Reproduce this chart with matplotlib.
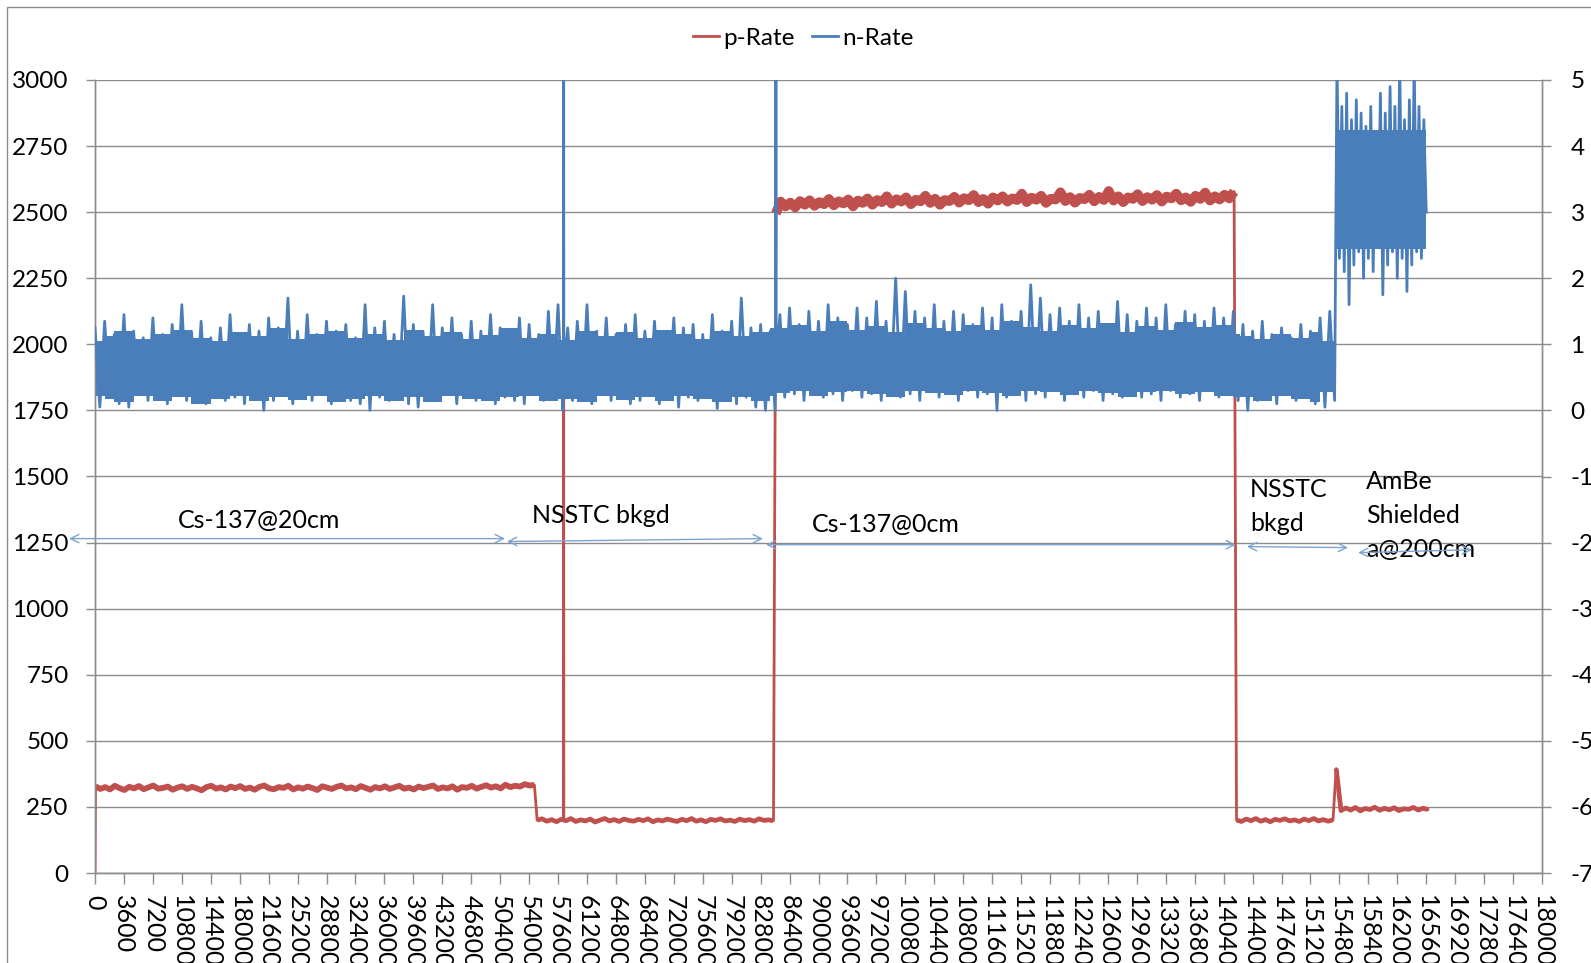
import numpy as np
import matplotlib
matplotlib.use("Agg")
import matplotlib.pyplot as plt
from matplotlib.patches import Rectangle

plt.rcParams['font.family'] = ['Lato', 'DejaVu Sans']
plt.rcParams['axes.unicode_minus'] = False

# ---------------- data ----------------
x_ticks = list(range(0, 180001, 3600))
left_ticks = list(range(0, 3001, 250))
right_ticks = list(range(-7, 6))

# p-Rate (left axis), each run sampled every 600 s from its start time
P_STEP = 600
p_cs20_start = 60
p_cs20 = [328, 318, 325, 316, 330, 321, 314, 326, 320, 329,
          317, 324, 331, 319, 322, 327, 315, 323, 328, 318,
          326, 320, 313, 325, 330, 319, 324, 316, 327, 321,
          329, 318, 323, 315, 326, 331, 320, 317, 325, 322,
          330, 316, 324, 319, 327, 321, 314, 328, 323, 318,
          326, 331, 320, 324, 317, 329, 322, 315, 325, 320,
          328, 318, 324, 330, 319, 323, 316, 327, 321, 326,
          331, 318, 324, 320, 328, 315, 325, 322, 330, 319,
          326, 332, 323, 328, 320, 334, 325, 330, 327, 336,
          331, 333]
p_bkgd1_start = 55000
p_bkgd1 = [200, 205, 196, 202, 194, 203, 198, 206, 195, 201,
           197, 204, 193, 200, 206, 197, 202, 195, 204, 199,
           196, 203, 198, 205, 194, 201, 197, 204, 199, 195,
           203, 198, 206, 196, 201, 194, 203, 199, 205, 197,
           200, 195, 204, 198, 202, 196, 205, 199, 201, 198]
p_cs0_start = 84700
p_cs0 = [2495, 2540, 2522, 2536, 2518, 2542, 2528, 2545, 2524, 2538,
         2530, 2550, 2526, 2541, 2533, 2548, 2522, 2544, 2535, 2552,
         2528, 2546, 2538, 2560, 2532, 2549, 2540, 2556, 2530, 2547,
         2541, 2562, 2535, 2551, 2528, 2546, 2542, 2558, 2536, 2553,
         2545, 2565, 2538, 2550, 2532, 2556, 2544, 2560, 2540, 2552,
         2546, 2570, 2538, 2555, 2547, 2562, 2535, 2551, 2548, 2575,
         2542, 2557, 2536, 2554, 2549, 2566, 2541, 2558, 2546, 2580,
         2544, 2560, 2538, 2556, 2550, 2568, 2542, 2557, 2547, 2565,
         2540, 2559, 2552, 2570, 2545, 2556, 2539, 2562, 2550, 2574,
         2544, 2560, 2548, 2566, 2552, 2578]
p_bkgd2_start = 142000
p_bkgd2 = [200, 195, 204, 198, 206, 196, 202, 194, 203, 199,
           205, 197, 201, 195, 204, 198, 206, 197, 202, 196, 201]
p_ambe_start = 154400
p_ambe = [395, 236, 246, 238, 248, 235, 244, 240, 249, 237,
          245, 239, 247, 236, 243, 241, 248, 238, 245, 240]
# isolated samples: start of recording and the glitch during the background run
p_spike_t = [0, 58280, 58300, 58320]
p_spike_v = [0, 200, 2000, 200]

# n-Rate (right axis): peaks at k*1200 s, troughs at k*1200 + 600 s
N_STEP = 1200
n_peaks = [1.25, 1.35, 1.15, 1.45, 1.2, 1.1, 1.4, 1.15, 1.3, 1.6,
           1.2, 1.35, 1.1, 1.25, 1.45, 1.15, 1.3, 1.2, 1.4, 1.25,
           1.7, 1.2, 1.45, 1.15, 1.35, 1.2, 1.3, 1.1, 1.6, 1.25,
           1.35, 1.15, 1.73, 1.3, 1.2, 1.6, 1.25, 1.4, 1.15, 1.35,
           1.2, 1.45, 1.25, 1.1, 1.4, 1.3, 1.15, 1.5, 1.6, 1.25,
           1.35, 1.6, 1.2, 1.4, 1.15, 1.3, 1.45, 1.2, 1.35, 1.1,
           1.4, 1.25, 1.3, 1.15, 1.45, 1.2, 1.35, 1.7, 1.25, 1.3,
           1.2, 1.45, 1.55, 1.3, 1.5, 1.35, 1.6, 1.4, 1.3, 1.55,
           1.4, 1.65, 1.35, 2.0, 1.8, 1.5, 1.4, 1.6, 1.35, 1.5,
           1.45, 1.3, 1.55, 1.4, 1.6, 1.35, 1.5, 1.9, 1.7, 1.45,
           1.55, 1.35, 1.6, 1.4, 1.5, 1.3, 1.65, 1.45, 1.35, 1.55,
           1.4, 1.6, 1.3, 1.5, 1.45, 1.35, 1.55, 1.4, 1.5, 1.3,
           1.2, 1.35, 1.15, 1.25, 1.1, 1.3, 1.2, 1.4, 1.5]
n_troughs = [0.05, 0.2, 0.1, 0.05, 0.25, 0.15, 0.2, 0.1, 0.25, 0.15,
             0.2, 0.1, 0.25, 0.15, 0.2, 0.1, 0.2, 0.0, 0.15, 0.25,
             0.1, 0.2, 0.15, 0.25, 0.1, 0.2, 0.15, 0.1, 0.0, 0.2,
             0.15, 0.25, 0.1, 0.05, 0.2, 0.15, 0.25, 0.1, 0.2, 0.15,
             0.25, 0.1, 0.2, 0.15, 0.1, 0.25, 0.15, 0.2, 0.0, 0.15,
             0.2, 0.1, 0.25, 0.15, 0.2, 0.1, 0.15, 0.25, 0.1, 0.2,
             0.05, 0.2, 0.15, 0.25, 0.03, 0.15, 0.1, 0.2, 0.05, 0.0,
             0.0, 0.2, 0.25, 0.15, 0.3, 0.2, 0.25, 0.15, 0.3, 0.2,
             0.25, 0.15, 0.3, 0.2, 0.25, 0.15, 0.3, 0.2, 0.25, 0.15,
             0.3, 0.2, 0.25, 0.0, 0.2, 0.3, 0.15, 0.25, 0.2, 0.3,
             0.15, 0.25, 0.2, 0.3, 0.15, 0.25, 0.2, 0.3, 0.2, 0.25,
             0.15, 0.3, 0.2, 0.25, 0.15, 0.3, 0.2, 0.25, 0.15, 0.0,
             0.15, 0.2, 0.1, 0.25, 0.15, 0.2, 0.1, 0.05, 0.15]
# plateau levels of the dense n-Rate envelope, one per 2400 s block
N_PLATEAU_STEP = 2400
n_plateau_hi = [1.12, 1.2, 1.08, 1.15, 1.22, 1.1, 1.05, 1.18, 1.12, 1.25,
                1.08, 1.15, 1.2, 1.1, 1.16, 1.06, 1.22, 1.12, 1.18, 1.08,
                1.14, 1.24, 1.1, 1.16, 1.06, 1.2, 1.12, 1.18, 1.1, 1.22,
                1.15, 1.08, 1.2, 1.12, 1.18,
                1.25, 1.3, 1.2, 1.35, 1.22, 1.28, 1.18, 1.32, 1.25, 1.2,
                1.3, 1.22, 1.35, 1.26, 1.2, 1.3, 1.24, 1.32, 1.18, 1.28,
                1.22, 1.34, 1.26, 1.3,
                1.12, 1.08, 1.15, 1.1, 1.18]
n_plateau_lo = [0.18, 0.12, 0.22, 0.15, 0.2, 0.1, 0.18, 0.24, 0.14, 0.2,
                0.16, 0.22, 0.12, 0.18, 0.25, 0.15, 0.2, 0.12, 0.22, 0.17,
                0.14, 0.2, 0.24, 0.15, 0.18, 0.12, 0.22, 0.16, 0.2, 0.14,
                0.22, 0.18, 0.12, 0.2, 0.15,
                0.26, 0.3, 0.22, 0.28, 0.32, 0.25, 0.2, 0.3, 0.27, 0.24,
                0.32, 0.26, 0.22, 0.3, 0.28, 0.24, 0.33, 0.26, 0.2, 0.28,
                0.3, 0.25, 0.28, 0.22,
                0.2, 0.15, 0.22, 0.18, 0.12]
n_ambe_start = 154500
n_ambe_step = 300
n_ambe = [5.3, 2.3, 4.6, 2.1, 4.8, 1.6, 4.4, 2.2, 4.7, 2.4,
          4.5, 2.0, 4.3, 2.3, 4.6, 2.1, 4.2, 2.5, 4.8, 1.75,
          4.5, 2.2, 4.9, 2.4, 4.6, 2.0, 5.3, 2.3, 4.4, 1.8,
          4.7, 2.2, 5.3, 2.4, 4.6, 2.3, 4.4, 3.0]
# glitches at the two changeovers
n_spike_t = [58280, 58300, 58320, 84680, 84700, 84720]
n_spike_v = [0.6, 5.6, 0.6, 0.6, 5.6, 0.7]
# dense core of the n-Rate trace for each run
n_core_start = [0, 84700, 142400, 154500]
n_core_end = [84700, 142400, 154300, 165600]
n_core_lo = [0.22, 0.3, 0.28, 2.45]
n_core_hi = [1.05, 1.15, 1.05, 4.25]

# run labels (baseline of the last line) and the span arrows under them
label_texts = ["Cs-137@20cm", "NSSTC bkgd", "Cs-137@0cm", "NSSTC\nbkgd",
               "AmBe\nShielded\na@200cm"]
label_x = [10330, 54360, 89190, 143680, 158110]
label_y = [1307, 1324, 1289, 1292, 1197]
arrow_x0 = [-3234, 51250, 83470, 143300, 157120]
arrow_x1 = [51000, 83100, 141940, 155870, 171300]
arrow_y0 = [1265, 1254, 1242, 1235, 1212]
arrow_y1 = [1265, 1265, 1242, 1231, 1223]

# ---------------- series assembly ----------------
def run(start, step, vals):
    return start + step * np.arange(len(vals)), np.asarray(vals, dtype=float)

p_runs = [run(p_cs20_start, P_STEP, p_cs20), run(p_bkgd1_start, P_STEP, p_bkgd1),
          run(p_cs0_start, P_STEP, p_cs0), run(p_bkgd2_start, P_STEP, p_bkgd2),
          run(p_ambe_start, P_STEP, p_ambe)]
p_t = np.concatenate([r[0] for r in p_runs] + [np.asarray(p_spike_t, float)])
p_v = np.concatenate([r[1] for r in p_runs] + [np.asarray(p_spike_v, float)])
o = np.argsort(p_t, kind="stable")
p_t, p_v = p_t[o], p_v[o]

k = np.arange(len(n_peaks))
band_t = np.empty(2 * len(k))
band_v = np.empty(2 * len(k))
band_t[0::2] = k * N_STEP
band_t[1::2] = k * N_STEP + N_STEP / 2
band_v[0::2] = n_peaks
band_v[1::2] = n_troughs
ambe_t, ambe_v = run(n_ambe_start, n_ambe_step, n_ambe)
n_t = np.concatenate([band_t, ambe_t, np.asarray(n_spike_t, float)])
n_v = np.concatenate([band_v, ambe_v, np.asarray(n_spike_v, float)])
o = np.argsort(n_t, kind="stable")
n_t, n_v = n_t[o], n_v[o]

plateau_t, plateau_hi = run(N_PLATEAU_STEP / 2, N_PLATEAU_STEP, n_plateau_hi)
plateau_lo = np.asarray(n_plateau_lo, dtype=float)

# ---------------- figure ----------------
W, H = 1591, 963
fig = plt.figure(figsize=(W / 100, H / 100), dpi=100)
ax = fig.add_axes([95 / W, 90 / H, 1447 / W, 793 / H])
ax2 = ax.twinx()

RED = '#C0504D'
BLUE = '#4A7EBB'
GRID = '#8C8C8C'

# whole p-Rate trace (carries the step changes), then each run's noise band
ax.plot(p_t, p_v, color=RED, lw=2.0, label='p-Rate', zorder=3)
run_widths = [4.2, 3.4, 7.0, 3.4, 3.4]
for (rt, rv), lw in zip(p_runs, run_widths):
    ax.plot(rt, rv, color=RED, lw=lw, solid_capstyle='butt', zorder=3)

for s, e, lo, hi in zip(n_core_start, n_core_end, n_core_lo, n_core_hi):
    ax2.fill_between([s, e], [lo, lo], [hi, hi], color=BLUE, lw=0, zorder=2)
ax2.fill_between(plateau_t, plateau_lo, plateau_hi, step='mid',
                 color=BLUE, lw=0, zorder=2)
ax2.plot(n_t, n_v, color=BLUE, lw=2.0, label='n-Rate', zorder=3)

ax.set_xlim(0, 180000)
ax.set_ylim(0, 3000)
ax2.set_ylim(-7, 5)

ax.set_xticks(x_ticks)
ax.set_xticklabels([str(v) for v in x_ticks], rotation=-90)
ax.set_yticks(left_ticks)
ax2.set_yticks(right_ticks)

ax.yaxis.grid(True, color=GRID, lw=1.0)
ax.set_axisbelow(True)

ax.tick_params(axis='x', length=8, width=1, color=GRID, pad=8,
               labelsize=18, labelcolor='black')
ax.tick_params(axis='y', length=6.5, width=1, color=GRID, pad=12.5,
               labelsize=17.5, labelcolor='black')
ax2.tick_params(axis='y', length=6.5, width=1, color=GRID, pad=14,
                labelsize=17.5, labelcolor='black')

for a in (ax, ax2):
    a.spines['top'].set_visible(False)
    for side in ('left', 'right', 'bottom'):
        a.spines[side].set_color(GRID)
        a.spines[side].set_linewidth(1.0)

for txt, x, y in zip(label_texts, label_x, label_y):
    ax.text(x, y, txt, fontsize=18, ha='left', va='baseline',
            linespacing=1.58, color='black')

for x0, x1, y0, y1 in zip(arrow_x0, arrow_x1, arrow_y0, arrow_y1):
    ax.annotate('', xy=(x1, y1), xytext=(x0, y0), annotation_clip=False,
                arrowprops=dict(arrowstyle='<->,head_length=0.6,head_width=0.3',
                                color='#7FA3CF', lw=1.0,
                                shrinkA=0, shrinkB=0))

h1, l1 = ax.get_legend_handles_labels()
h2, l2 = ax2.get_legend_handles_labels()
leg = fig.legend(h1 + h2, l1 + l2, loc='center',
                 bbox_to_anchor=(803 / W, 1 - 38 / H),
                 ncol=2, frameon=False, fontsize=17.5, handlelength=1.1,
                 handletextpad=0.15, columnspacing=0.7)
for line in leg.get_lines():
    line.set_linewidth(2.0)

fig.add_artist(Rectangle((7 / W, -0.05), 1.1, (H - 7) / H + 0.05,
                         transform=fig.transFigure, fill=False,
                         ec='#8A8A8A', lw=1.0))

fig.savefig('out.png', dpi=100)
